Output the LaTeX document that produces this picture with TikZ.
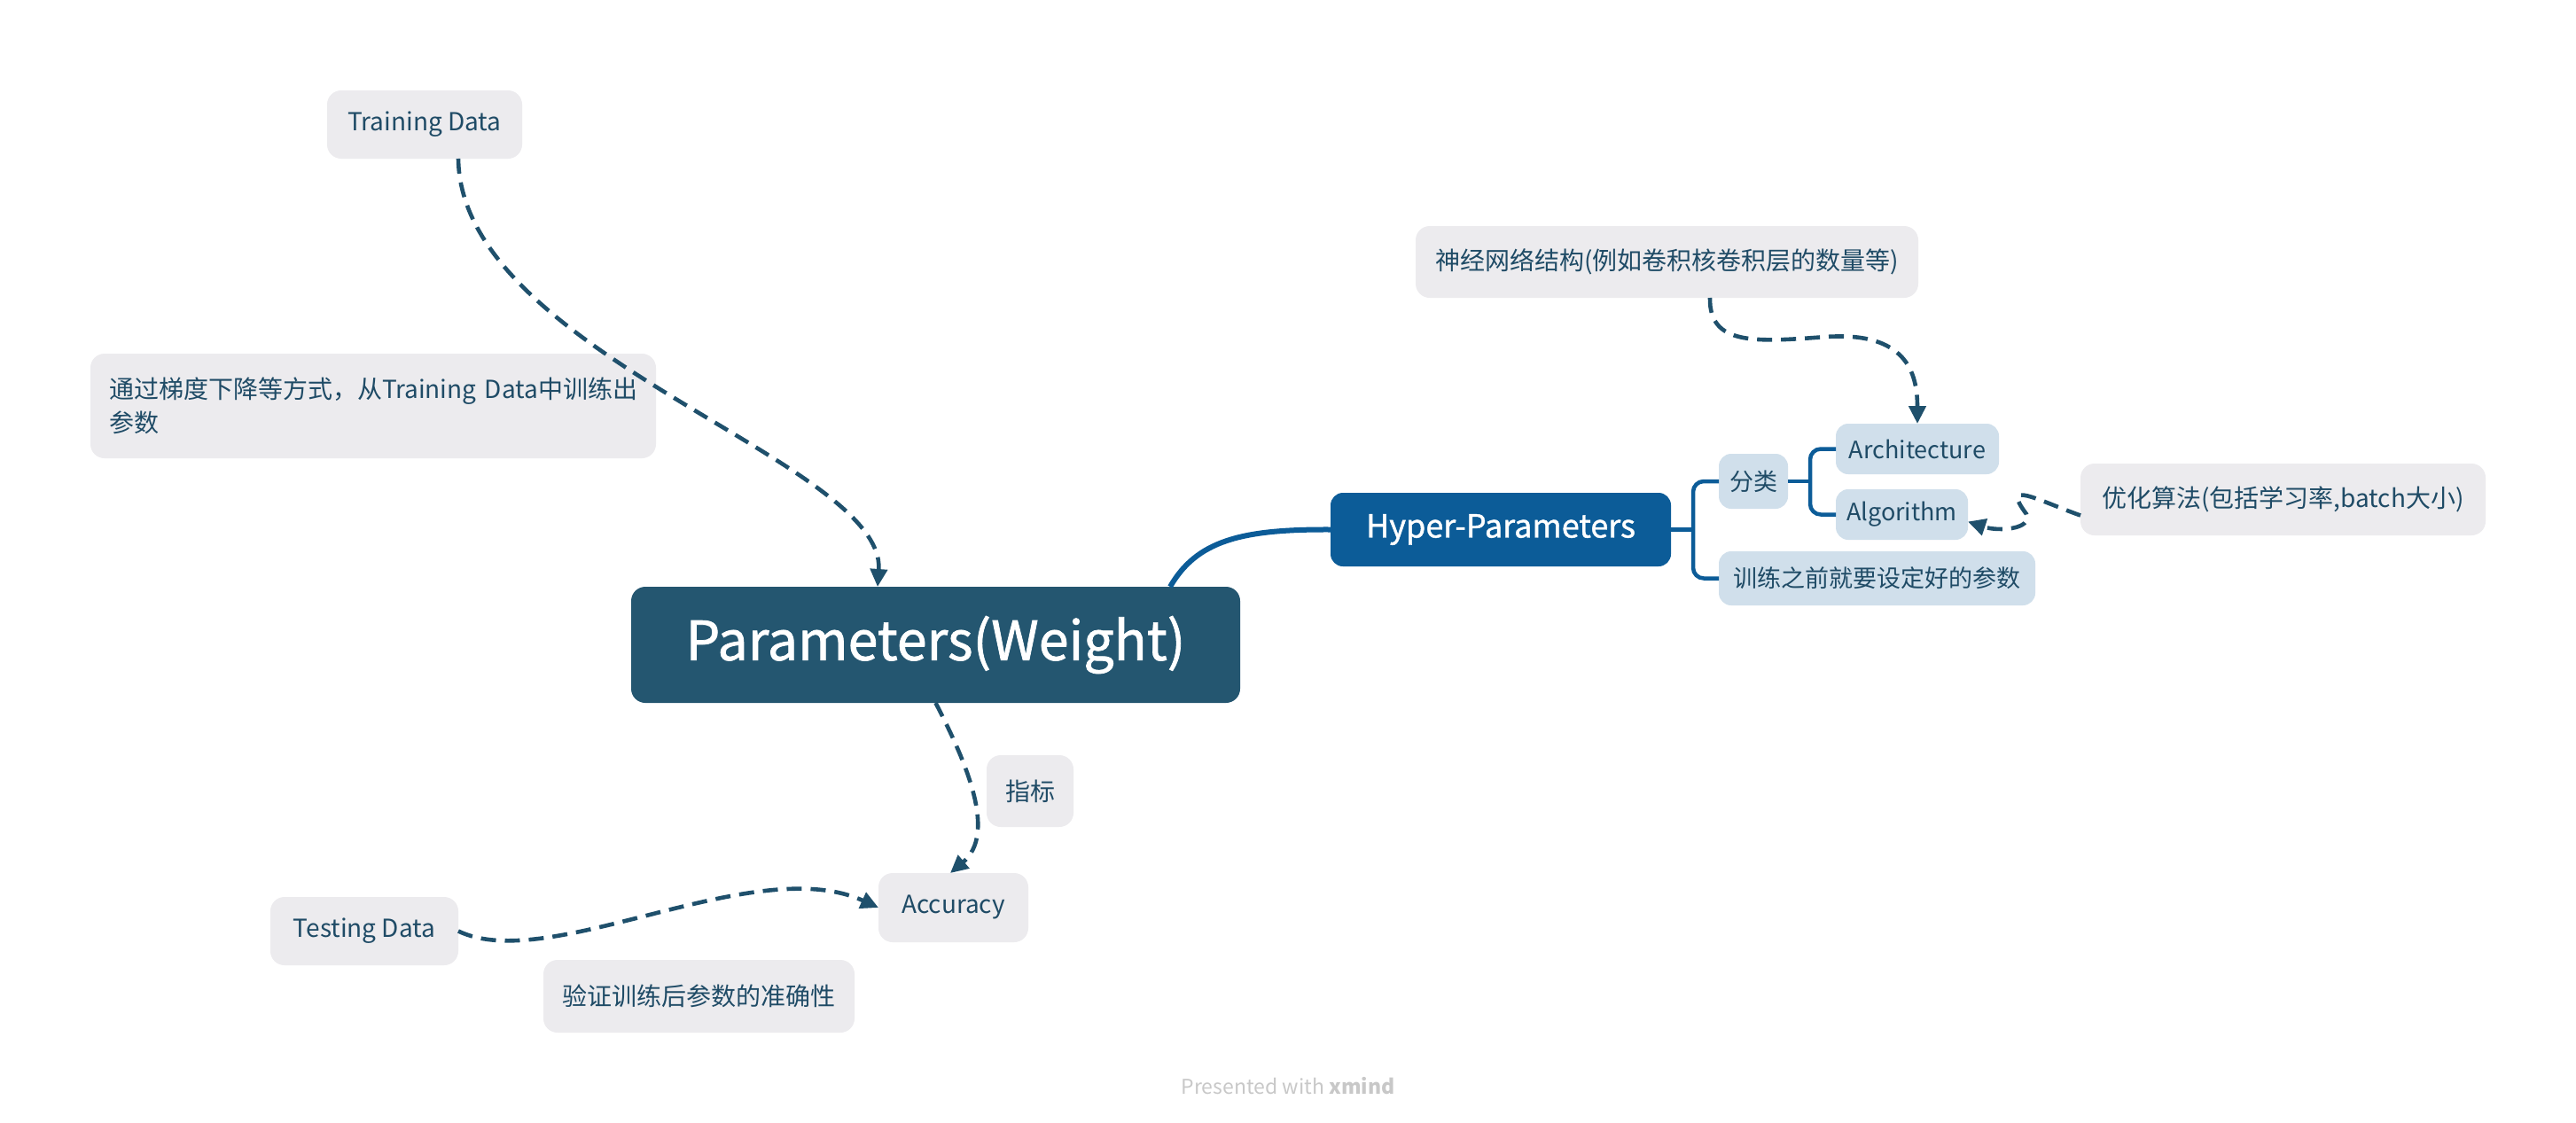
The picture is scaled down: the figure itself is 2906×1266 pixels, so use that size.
\documentclass[tikz,border=0pt]{standalone}
\usepackage{fontspec}
\setmainfont{Noto Sans CJK SC}
\newfontfamily\medfont[FakeBold=1.2]{Noto Sans CJK SC}
\usetikzlibrary{arrows.meta}
\definecolor{deep}{HTML}{245670}
\definecolor{hyper}{HTML}{0C5C98}
\definecolor{greybox}{HTML}{ECEBEE}
\definecolor{bluebox}{HTML}{D0DFEB}
\definecolor{txt}{HTML}{1F4B66}
\definecolor{dashc}{HTML}{1F506C}
\definecolor{wmc}{HTML}{C8C8C8}
\begin{document}
\begin{tikzpicture}[x=1pt,y=-1pt,
  every node/.style={inner sep=0pt, outer sep=0pt},
  gbox/.style={rounded corners=16pt, fill=greybox, text=txt, font=\fontsize{28}{38}\selectfont},
  bbox/.style={rounded corners=14pt, fill=bluebox, text=txt, font=\fontsize{27}{36}\selectfont},
  dlink/.style={draw=dashc, line width=4.6pt, dash pattern=on 17pt off 10pt, -{Triangle[length=20pt,width=19pt]}},
  tree/.style={draw=hyper, line width=4.5pt},
]
\fill[white] (0,0) rectangle (2906,1266);
\useasboundingbox (0,0) rectangle (2906,1266);

% nodes
\node[gbox, minimum width=220pt, minimum height=77pt] (train) at (479,140.5) {Training Data};
\node[gbox, minimum width=638pt, minimum height=118pt, text width=596pt, align=left] (note) at (421,458) {\mbox{通过梯度下降等方式，从Training Data中训练出}\\参数};
\node[rounded corners=16pt, fill=deep, text=white, font=\medfont\fontsize{61}{66}\selectfont, minimum width=687pt, minimum height=131pt] (param) at (1055.5,727.5) {Parameters(Weight)};
\node[gbox, minimum width=98pt, minimum height=81pt] (zb) at (1162,892.5) {指标};
\node[gbox, minimum width=169pt, minimum height=78pt] (acc) at (1075.5,1024) {Accuracy};
\node[gbox, minimum width=212pt, minimum height=77pt] (test) at (411,1050.5) {Testing Data};
\node[gbox, minimum width=351pt, minimum height=82pt] (verify) at (788.5,1124) {验证训练后参数的准确性};
\node[rounded corners=14pt, fill=hyper, text=white, font=\medfont\fontsize{36}{42}\selectfont, minimum width=384pt, minimum height=83pt] (hyp) at (1693,597.5) {Hyper-Parameters};
\node[gbox, minimum width=567pt, minimum height=81pt] (nn) at (1880.5,295.5) {神经网络结构(例如卷积核卷积层的数量等)};
\node[bbox, minimum width=78pt, minimum height=62pt] (fl) at (1978,543) {分类};
\node[bbox, minimum width=184pt, minimum height=57pt] (arch) at (2163,506.5) {Architecture};
\node[bbox, minimum width=149pt, minimum height=57pt] (algo) at (2145.5,580.5) {Algorithm};
\node[bbox, minimum width=357pt, minimum height=61pt] (pre) at (2117.5,652.5) {训练之前就要设定好的参数};
\node[gbox, minimum width=457pt, minimum height=81pt] (opt) at (2575.5,563.5) {优化算法(包括学习率,batch大小)};
\node[text=wmc, font=\fontsize{23}{28}\selectfont] (wm) at (1453,1225) {Presented with \textbf{xmind}};

% tree connectors
\coordinate (j1) at ([xshift=-29pt]fl.west);
\coordinate (j2) at ([xshift=-29pt]arch.west);
\draw[tree] (hyp.east) -- (hyp.east -| j1);
\draw[tree, rounded corners=12pt] (fl.west) -- (j1) |- (pre.west);
\draw[tree] (fl.east) -- (fl.east -| j2);
\draw[tree, rounded corners=12pt] (arch.west) -- (j2) |- (algo.west);

% main solid curve
\draw[draw=hyper, line width=6pt] ([xshift=264.5pt]param.north) .. controls (1350,610) and (1400,597) .. (hyp.west);

% dashed arrows
\draw[dlink] ([xshift=38pt]train.south) .. controls (520,400) and (1000,520) .. ([xshift=-65.5pt]param.north);
\draw[dlink] (param.south) .. controls (1090,860) and (1125,940) .. ([xshift=-3.5pt]acc.north);
\draw[dlink] (test.east) .. controls (620,1100) and (850,960) .. (acc.west);
\draw[dlink] ([xshift=48.5pt]nn.south) .. controls (1928,390) and (1980,386) .. (2060,380) .. controls (2150,374) and (2163,420) .. (arch.north);
\draw[dlink] ([yshift=-18pt]opt.west) .. controls (2300,565) and (2256,540) .. (2286,580) .. controls (2293,597) and (2255,600) .. ([yshift=-8pt]algo.east);
\end{tikzpicture}
\end{document}
